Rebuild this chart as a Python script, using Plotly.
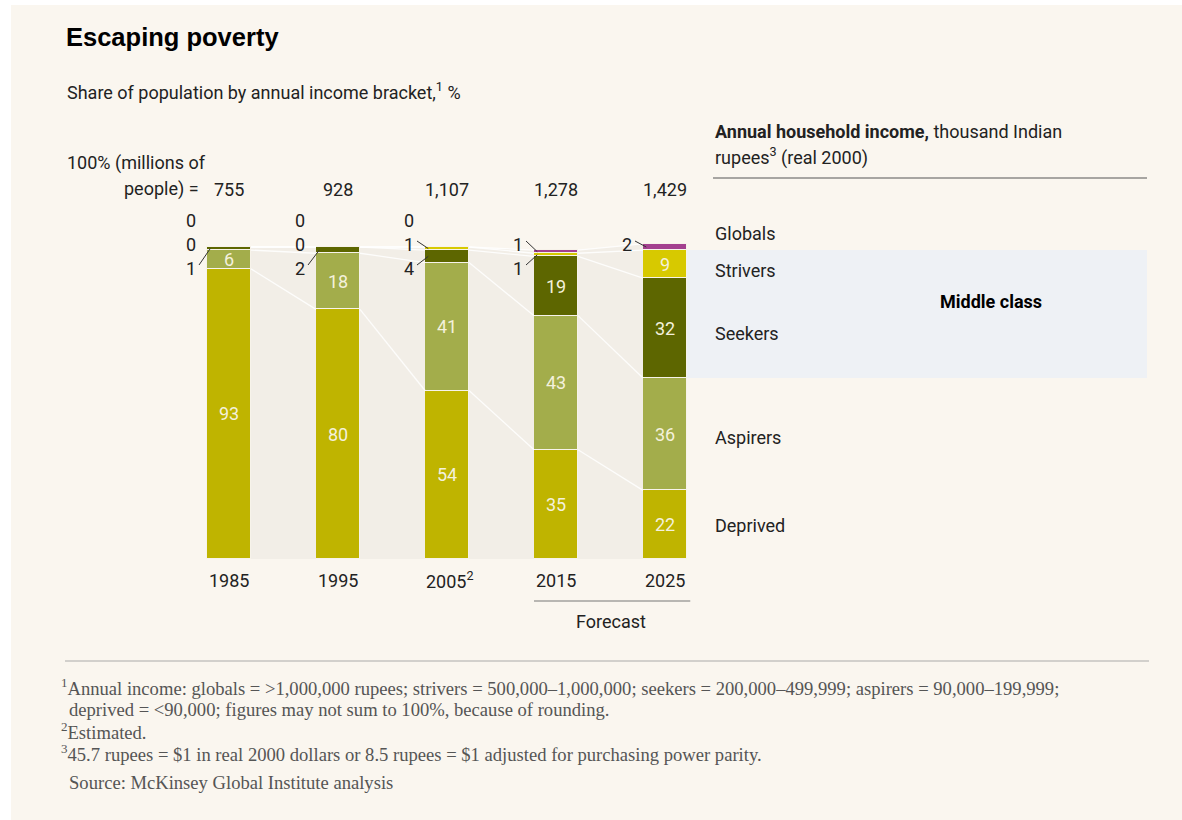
import plotly.graph_objects as go

# ---------------------------------------------------------------- data
years = ["1985", "1995", "2005", "2015", "2025"]
year_notes = ["", "", "2", "", ""]
population_millions = ["755", "928", "1,107", "1,278", "1,429"]

brackets = ["Deprived", "Aspirers", "Seekers", "Strivers", "Globals"]
deprived = [93, 80, 54, 35, 22]
aspirers = [6, 18, 41, 43, 36]
seekers = [1, 2, 4, 19, 32]
strivers = [0, 0, 1, 1, 9]
globals_ = [0, 0, 0, 1, 2]

# ---------------------------------------------------------------- style
W, H = 1182, 820
BG = "#faf6ef"
BAND = "#f2eee7"
MIDDLE_BOX = "#eef1f5"
COLORS = ["#bfb400", "#a3ad4b", "#5d6600", "#d7c900", "#a3408f"]
INNER_TEXT = "#f4f1dc"
SANS = "Roboto, Liberation Sans, sans-serif"
SANS_BOLD = "Liberation Sans, Arial, sans-serif"
SERIF = "Liberation Serif, DejaVu Serif, serif"
TXT = "#222222"
FS = 18

# pixel geometry of the drawing
X0_PX, STEP_PX, BAR_PX = 229, 109, 44
BASE_PX, PCT_PX = 559, 3.12
BW = BAR_PX / STEP_PX


def px_x(px):
    return (px - X0_PX) / STEP_PX


def px_y(py):
    return (BASE_PX - py) / PCT_PX


def ann(text, px, py, size=FS, anchor="left", family=SANS, color=TXT, **kw):
    return dict(text=text, x=px / W, y=1 - py / H, xref="paper", yref="paper",
                xanchor=anchor, yanchor="middle", showarrow=False,
                font=dict(family=family, size=size, color=color), **kw)


series = [deprived, aspirers, seekers, strivers, globals_]
n = len(years)
xs = list(range(n))

# cumulative boundaries for each bar
bounds = []
for i in range(n):
    acc = [0]
    for s in series:
        acc.append(acc[-1] + s[i])
    bounds.append(acc)

fig = go.Figure()

# shaded bands between neighbouring bars, topped by the stack totals
for i in range(n - 1):
    xa, xb = i + BW / 2, i + 1 - BW / 2
    fig.add_trace(go.Scatter(
        x=[xa, xa, xb, xb, xa], y=[0, bounds[i][-1], bounds[i + 1][-1], 0, 0],
        fill="toself", fillcolor=BAND, mode="none", hoverinfo="skip",
        showlegend=False))

# white connectors between matching segment boundaries
for k in range(1, len(series) + 1):
    cx, cy = [], []
    for i in range(n - 1):
        cx += [i + BW / 2, i + 1 - BW / 2, None]
        cy += [bounds[i][k], bounds[i + 1][k], None]
    fig.add_trace(go.Scatter(x=cx, y=cy, mode="lines",
                             line=dict(color="rgba(255,255,255,0.85)", width=1.3),
                             hoverinfo="skip", showlegend=False))

# stacked bars
for name, vals, col in zip(brackets, series, COLORS):
    fig.add_trace(go.Bar(x=xs, y=vals, name=name, width=BW,
                         marker=dict(color=col, line=dict(color="#f7f3ea", width=1.5)),
                         showlegend=False, hoverinfo="skip"))

annotations = []
shapes = []

# values written inside the larger segments
for i in range(n):
    for k, s in enumerate(series):
        if s[i] >= 5:
            mid = (bounds[i][k] + bounds[i][k + 1]) / 2
            annotations.append(dict(text=str(s[i]), x=i, y=mid, xref="x", yref="y",
                                    showarrow=False, xanchor="center", yanchor="middle",
                                    font=dict(family=SANS, size=FS, color=INNER_TEXT)))

# small segments are labelled beside the bar: (bracket index, row)
ROW_PX = [268, 244, 220]
small_labels = [
    [(2, 0), (3, 1), (4, 2)],
    [(2, 0), (3, 1), (4, 2)],
    [(2, 0), (3, 1), (4, 2)],
    [(3, 0), (4, 1)],
    [(4, 1)],
]
for i, items in enumerate(small_labels):
    left_px = X0_PX + i * STEP_PX - BAR_PX / 2
    for k, row in items:
        v = series[k][i]
        ry = ROW_PX[row]
        annotations.append(ann(str(v), left_px - 9, ry, anchor="right"))
        if v > 0:
            mid = (bounds[i][k] + bounds[i][k + 1]) / 2
            shapes.append(dict(type="line", xref="x", yref="y",
                               x0=px_x(left_px - 8), y0=px_y(ry - 3),
                               x1=i - BW / 2 + 0.03, y1=mid,
                               line=dict(color="#333333", width=1)))

# population totals and year labels
annotations.append(ann("100% (millions of", 65, 163))
annotations.append(ann("people) =", 201, 189, anchor="right"))
for i in range(n):
    cx = X0_PX + i * STEP_PX
    annotations.append(ann(population_millions[i], cx, 189, anchor="center"))
    label = years[i] + (f"<sup>{year_notes[i]}</sup>" if year_notes[i] else "")
    annotations.append(ann(label, cx + (3 if year_notes[i] else 0), 580, anchor="center"))

# forecast bracket under the last two bars
shapes.append(dict(type="line", xref="x", yref="paper",
                   x0=3 - BW / 2, x1=4 + BW / 2 + 0.03,
                   y0=1 - 601 / H, y1=1 - 601 / H, line=dict(color="#777777", width=1.2)))
annotations.append(ann("Forecast", X0_PX + 3.5 * STEP_PX, 621, anchor="center"))

# middle-class highlight: seekers and strivers of the final year
last = n - 1
shapes.append(dict(type="rect", xref="x", yref="y", layer="below",
                   x0=last + BW / 2, x1=px_x(1147),
                   y0=bounds[last][2], y1=bounds[last][4],
                   fillcolor=MIDDLE_BOX, line=dict(width=0)))
annotations.append(ann("<b>Middle class</b>", 991, 301, anchor="center", color="#000000"))

# bracket names on the right
for name, py in zip(["Globals", "Strivers", "Seekers", "Aspirers", "Deprived"],
                    [233, 270, 333, 437, 525]):
    annotations.append(ann(name, 713, py))

annotations.append(ann("<b>Annual household income,</b> thousand Indian", 713, 131))
annotations.append(ann("rupees<sup>3</sup> (real 2000)", 713, 157))
shapes.append(dict(type="line", xref="paper", yref="paper",
                   x0=713 / W, x1=1147 / W, y0=1 - 178 / H, y1=1 - 178 / H,
                   line=dict(color="#555555", width=1)))

# title block
annotations.append(ann("<b>Escaping poverty</b>", 64, 37, size=25.5, family=SANS_BOLD,
                       color="#000000"))
annotations.append(ann("Share of population by annual income bracket,<sup>1</sup> %", 65, 91))

# footnotes
shapes.append(dict(type="line", xref="paper", yref="paper",
                   x0=65 / W, x1=1149 / W, y0=1 - 661 / H, y1=1 - 661 / H,
                   line=dict(color="#aaaaaa", width=1.2)))
FN = "#555555"
notes = [
    ("<sup>1</sup>Annual income: globals = &gt;1,000,000 rupees; strivers = 500,000–1,000,000; "
     "seekers = 200,000–499,999; aspirers = 90,000–199,999;", 59, 687),
    ("deprived = &lt;90,000; figures may not sum to 100%, because of rounding.", 67, 709),
    ("<sup>2</sup>Estimated.", 59, 731),
    ("<sup>3</sup>45.7 rupees = $1 in real 2000 dollars or 8.5 rupees = $1 adjusted for "
     "purchasing power parity.", 59, 753),
    ("Source: McKinsey Global Institute analysis", 67, 782),
]
for text, px, py in notes:
    annotations.append(ann(text, px, py, size=18.6, family=SERIF, color=FN))

# white page edge at top and left
shapes.append(dict(type="rect", xref="paper", yref="paper", x0=0, x1=11 / W, y0=0, y1=1,
                   fillcolor="#ffffff", line=dict(width=0), layer="below"))
shapes.append(dict(type="rect", xref="paper", yref="paper", x0=0, x1=1, y0=1 - 5 / H, y1=1,
                   fillcolor="#ffffff", line=dict(width=0), layer="below"))

fig.update_layout(
    width=W, height=H, autosize=False,
    margin=dict(l=0, r=0, t=0, b=0),
    paper_bgcolor=BG, plot_bgcolor="rgba(0,0,0,0)",
    barmode="stack", bargap=0,
    xaxis=dict(range=[px_x(0), px_x(W)], domain=[0, 1], visible=False, fixedrange=True),
    yaxis=dict(range=[px_y(H), px_y(0)], domain=[0, 1], visible=False, fixedrange=True),
    annotations=annotations, shapes=shapes,
)

fig.write_html("out.html", config={"displayModeBar": False})
